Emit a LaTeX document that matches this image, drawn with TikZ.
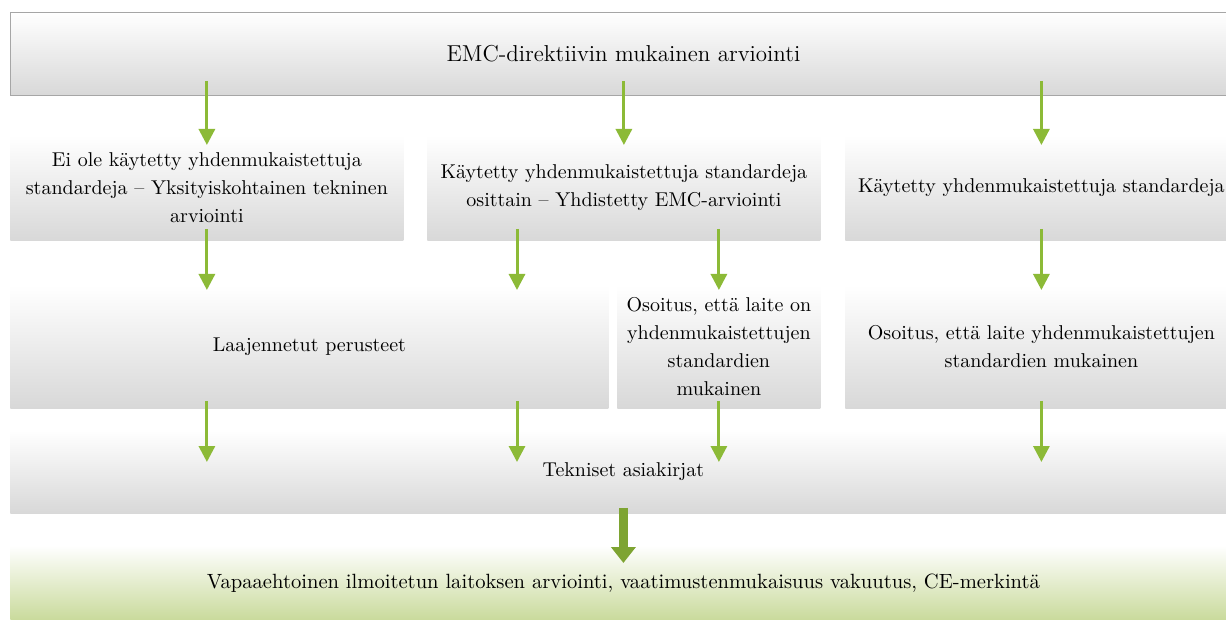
\documentclass[tikz,border=0pt]{standalone}
\usepackage{tikz}
\usetikzlibrary{arrows.meta,positioning,calc}
\usepackage{xcolor}
\definecolor{boxgray}{RGB}{216,216,216}
\definecolor{edgegray}{RGB}{166,166,166}
\definecolor{leafgreen}{RGB}{201,218,155}
\definecolor{arrowgreen}{RGB}{140,186,55}
\definecolor{darkarrow}{RGB}{126,164,50}

\tikzset{
  box/.style={rectangle, anchor=north west, inner sep=0pt, align=center,
    top color=white, bottom color=boxgray,
    font=\fontsize{10}{14}\selectfont},
  flow/.style={-{Triangle[width=8pt,length=8pt]}, line width=1.5pt, arrowgreen},
  bigflow/.style={-{Triangle[width=12pt,length=8pt]}, line width=4.5pt, darkarrow}
}

\begin{document}
\begin{tikzpicture}[x=0.5pt, y=-0.5pt]
\useasboundingbox (0,0) rectangle (1226,620);
% top
\node[box, draw=edgegray, line width=0.5pt, minimum width=613pt, minimum height=41.5pt,
  font=\fontsize{11.5}{14}\selectfont] (emc) at (10,12)
  {EMC-direktiivin mukainen arviointi};
% second row
\node[box, minimum width=196.5pt, minimum height=52.5pt] (ei) at (10,135)
  {Ei ole käytetty yhdenmukaistettuja\\standardeja -- Yksityiskohtainen tekninen\\arviointi};
\node[box, minimum width=196.5pt, minimum height=52.5pt] (osit) at (427,135)
  {Käytetty yhdenmukaistettuja standardeja\\osittain -- Yhdistetty EMC-arviointi};
\node[box, minimum width=196pt, minimum height=52.5pt] (std) at (845,135)
  {Käytetty yhdenmukaistettuja standardeja};
% third row
\node[box, minimum width=299pt, minimum height=61.5pt] (laaj) at (10,285)
  {Laajennetut perusteet};
\node[box, minimum width=101.5pt, minimum height=61.5pt] (osE) at (617,285)
  {Osoitus, että laite on\\yhdenmukaistettujen\\standardien\\mukainen};
\node[box, minimum width=196pt, minimum height=61.5pt] (osF) at (845,285)
  {Osoitus, että laite yhdenmukaistettujen\\standardien mukainen};
% bottom rows
\node[box, minimum width=613pt, minimum height=41.5pt] (tek) at (10,430)
  {Tekniset asiakirjat};
\node[box, bottom color=leafgreen, minimum width=613pt, minimum height=37.5pt,
  font=\fontsize{10.3}{14}\selectfont] (vap) at (10,545)
  {Vapaaehtoinen ilmoitetun laitoksen arviointi, vaatimustenmukaisuus vakuutus, CE-merkintä};

\draw[flow] ([yshift=7.5pt]emc.south -| ei) -- ([yshift=-5pt]ei.north);
\draw[flow] ([yshift=7.5pt]emc.south -| osit) -- ([yshift=-5pt]osit.north);
\draw[flow] ([yshift=7.5pt]emc.south -| std) -- ([yshift=-5pt]std.north);

\draw[flow] ([yshift=6pt]ei.south) -- ([yshift=-2.5pt]ei.south |- laaj.north);
\draw[flow] ([xshift=45pt,yshift=6pt]osit.south west) -- ([xshift=45pt,yshift=-2.5pt]osit.south west |- laaj.north);
\draw[flow] ([yshift=6pt]osit.south -| osE) -- ([yshift=-2.5pt]osE.north);
\draw[flow] ([yshift=6pt]std.south) -- ([yshift=-2.5pt]osF.north);

\draw[flow] ([yshift=4pt]laaj.south -| ei) -- ([yshift=-16pt]tek.north -| ei);
\draw[flow] ([xshift=253.5pt,yshift=4pt]laaj.south west) -- ([xshift=253.5pt,yshift=-16pt]laaj.south west |- tek.north);
\draw[flow] ([yshift=4pt]osE.south) -- ([yshift=-16pt]tek.north -| osE);
\draw[flow] ([yshift=4pt]osF.south) -- ([yshift=-16pt]tek.north -| osF);

\draw[bigflow] ([yshift=3pt]tek.south) -- ([yshift=-9pt]vap.north);
\end{tikzpicture}
\end{document}
